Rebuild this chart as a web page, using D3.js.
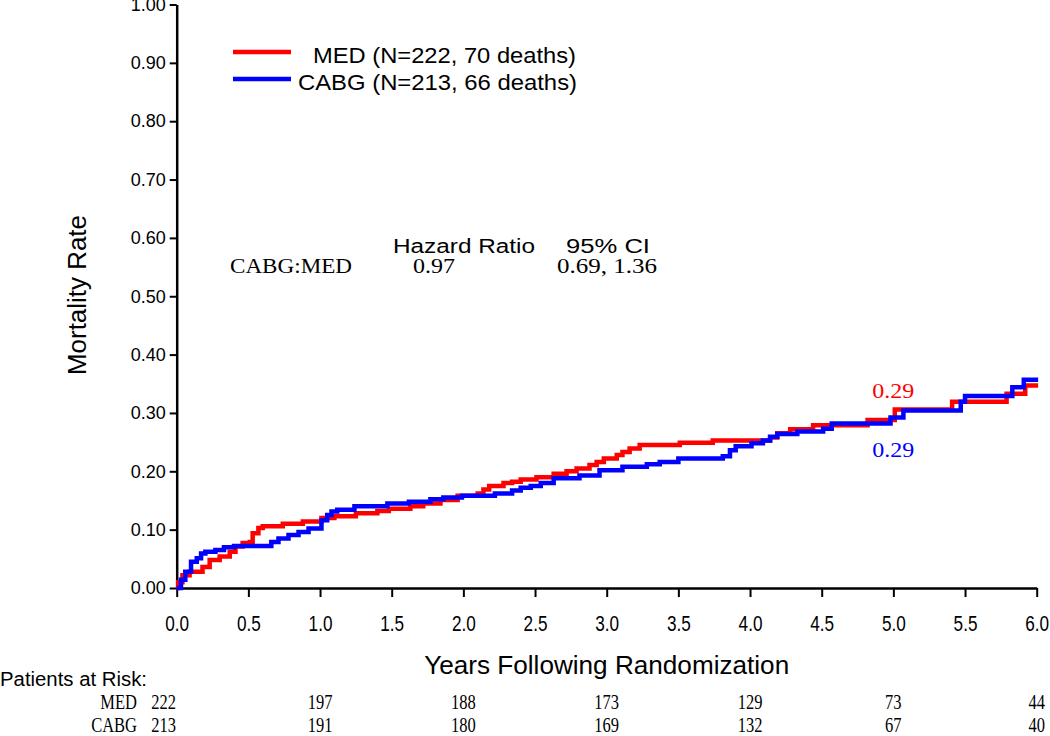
<!DOCTYPE html>
<html><head><meta charset="utf-8">
<script src="https://cdn.jsdelivr.net/npm/d3@7"></script>
<style>body{margin:0;background:#fff}svg{display:block}</style>
</head><body>
<svg id="c" width="1050" height="736"></svg>
<script>
// ---- data ----
const yTicks = [0,0.1,0.2,0.3,0.4,0.5,0.6,0.7,0.8,0.9,1.0];
const xTicks = [0,0.5,1,1.5,2,2.5,3,3.5,4,4.5,5,5.5,6];
const medCurve = [[0,0],[0.01,0.01],[0.04,0.022],[0.09,0.028],[0.18,0.036],[0.23,0.048],[0.30,0.054],[0.37,0.062],[0.41,0.071],[0.46,0.077],[0.51,0.079],[0.53,0.094],[0.57,0.103],[0.60,0.106],[0.74,0.110],[0.88,0.114],[1.01,0.120],[1.10,0.123],[1.25,0.128],[1.40,0.132],[1.48,0.136],[1.63,0.140],[1.72,0.145],[1.84,0.151],[1.96,0.158],[2.10,0.162],[2.14,0.169],[2.18,0.175],[2.28,0.180],[2.34,0.182],[2.40,0.186],[2.51,0.190],[2.63,0.196],[2.72,0.200],[2.79,0.205],[2.88,0.211],[2.93,0.216],[2.98,0.222],[3.07,0.228],[3.11,0.233],[3.16,0.239],[3.23,0.245],[3.51,0.249],[3.74,0.253],[4.14,0.258],[4.19,0.265],[4.28,0.272],[4.44,0.279],[4.82,0.288],[5.01,0.306],[5.41,0.319],[5.79,0.333],[5.92,0.347],[6.01,0.347]];
const cabgCurve = [[0,0],[0.03,0.014],[0.06,0.028],[0.10,0.045],[0.14,0.051],[0.17,0.059],[0.20,0.062],[0.27,0.065],[0.33,0.070],[0.40,0.072],[0.66,0.079],[0.71,0.085],[0.78,0.091],[0.85,0.096],[0.92,0.102],[1.01,0.116],[1.05,0.125],[1.08,0.131],[1.12,0.134],[1.24,0.140],[1.47,0.145],[1.62,0.148],[1.77,0.152],[1.86,0.155],[1.99,0.158],[2.22,0.162],[2.34,0.167],[2.40,0.172],[2.47,0.175],[2.54,0.180],[2.63,0.188],[2.81,0.193],[2.95,0.202],[3.11,0.208],[3.28,0.212],[3.37,0.216],[3.50,0.222],[3.81,0.226],[3.86,0.236],[3.90,0.243],[4.01,0.248],[4.09,0.253],[4.14,0.259],[4.19,0.264],[4.33,0.268],[4.51,0.273],[4.57,0.282],[4.98,0.292],[5.07,0.304],[5.47,0.319],[5.50,0.329],[5.83,0.344],[5.91,0.357],[6.01,0.357]];
const seriesNames = ["MED","CABG"];
const legendLabels = ["MED (N=222, 70 deaths)","CABG (N=213, 66 deaths)"];
const riskTimes = [0,1,2,3,4,5,6];
const medAtRisk = [222,197,188,173,129,73,44];
const cabgAtRisk = [213,191,180,169,132,67,40];
const hrHeader = ["Hazard Ratio","95% CI"];
const hrRow = ["CABG:MED","0.97","0.69,  1.36"];
const endLabels = ["0.29","0.29"];

// ---- chart ----
const svg = d3.select("#c");
const x = d3.scaleLinear().domain([0,6]).range([176.7,1036.7]);
const y = d3.scaleLinear().domain([0,1]).range([588,4.5]);
const colors = {MED:"#ff0000", CABG:"#0000ff"};
const SANS = "Liberation Sans, Arial, sans-serif";
const SERIF = "Liberation Serif, Times New Roman, serif";

// y axis
const ya = svg.append("g").attr("transform","translate(176.7,0)")
  .call(d3.axisLeft(y).tickValues(yTicks).tickFormat(d3.format(".2f")).tickSize(7).tickSizeOuter(0).tickPadding(4));
ya.select(".domain").attr("stroke","#000").attr("stroke-width",2.5);
ya.selectAll(".tick line").attr("stroke","#000").attr("stroke-width",2);
ya.selectAll(".tick text").attr("font-family",SANS).attr("font-size",18).attr("fill","#000");

// x axis
const xa = svg.append("g").attr("transform","translate(0,588)")
  .call(d3.axisBottom(x).tickValues(xTicks).tickFormat(d3.format(".1f")).tickSize(9).tickSizeOuter(0).tickPadding(18));
xa.select(".domain").attr("stroke","#000").attr("stroke-width",2.5);
xa.selectAll(".tick line").attr("stroke","#000").attr("stroke-width",2);
xa.selectAll(".tick text").attr("font-family",SANS).attr("font-size",22).attr("fill","#000")
  .attr("transform","scale(0.78,1)");

// axis titles
svg.append("text").attr("transform","translate(86,295) rotate(-90)").attr("text-anchor","middle")
  .attr("font-family",SANS).attr("font-size",25).attr("textLength",160).attr("lengthAdjust","spacingAndGlyphs").text("Mortality Rate");
svg.append("text").attr("x",x(3)).attr("y",674).attr("text-anchor","middle")
  .attr("font-family",SANS).attr("font-size",25)
  .attr("textLength",365).attr("lengthAdjust","spacingAndGlyphs").text("Years Following Randomization");

// curves
const line = d3.line().x(d=>x(d[0])).y(d=>y(d[1])).curve(d3.curveStepAfter);
[["MED",medCurve],["CABG",cabgCurve]].forEach(([n,data])=>{
  svg.append("path").datum(data).attr("d",line).attr("fill","none")
    .attr("stroke",colors[n]).attr("stroke-width",4.5).attr("stroke-linejoin","miter");
});

// legend
const legY = [52,79];
const legTextX = [313,298];
const legW = [263,279];
seriesNames.forEach((n,i)=>{
  svg.append("line").attr("x1",233).attr("x2",291).attr("y1",legY[i]).attr("y2",legY[i])
    .attr("stroke",colors[n]).attr("stroke-width",4.5);
  svg.append("text").attr("x",legTextX[i]).attr("y",legY[i]+11)
    .attr("font-family",SANS).attr("font-size",22).attr("textLength",legW[i]).attr("lengthAdjust","spacingAndGlyphs").text(legendLabels[i]);
});

// hazard ratio table
svg.append("text").attr("x",393).attr("y",253).attr("font-family",SANS).attr("font-size",20)
  .attr("textLength",142).attr("lengthAdjust","spacingAndGlyphs").text(hrHeader[0]);
svg.append("text").attr("x",566).attr("y",253).attr("font-family",SANS).attr("font-size",20)
  .attr("textLength",84).attr("lengthAdjust","spacingAndGlyphs").text(hrHeader[1]);
const hrX = [230,413,557], hrW=[122,42,100];
hrRow.forEach((t,i)=>{
  svg.append("text").attr("x",hrX[i]).attr("y",273).attr("font-family",SERIF).attr("font-size",20)
    .attr("textLength",hrW[i]).attr("lengthAdjust","spacingAndGlyphs").text(t);
});

// end labels
const endY = [0.326,0.225];
seriesNames.forEach((n,i)=>{
  svg.append("text").attr("x",x(5.0)).attr("y",y(endY[i])).attr("text-anchor","middle")
    .attr("font-family",SERIF).attr("font-size",21).attr("textLength",42).attr("lengthAdjust","spacingAndGlyphs")
    .attr("fill",colors[n]).text(endLabels[i]);
});

// patients at risk
svg.append("text").attr("x",0).attr("y",686).attr("font-family",SANS).attr("font-size",20)
  .attr("textLength",147).attr("lengthAdjust","spacingAndGlyphs").text("Patients at Risk:");
const rowY = [709,732];
[medAtRisk,cabgAtRisk].forEach((arr,r)=>{
  svg.append("g").attr("transform",`translate(137,${rowY[r]}) scale(0.75,1)`)
    .append("text").attr("text-anchor","end").attr("font-family",SERIF).attr("font-size",22)
    .text(seriesNames[r]);
  arr.forEach((v,i)=>{
    const cx = x(riskTimes[i]) + (i===0 ? -13 : 0);
    svg.append("g").attr("transform",`translate(${cx},${rowY[r]}) scale(0.75,1)`)
      .append("text").attr("text-anchor","middle").attr("font-family",SERIF).attr("font-size",22)
      .text(v);
  });
});
</script>
</body></html>
